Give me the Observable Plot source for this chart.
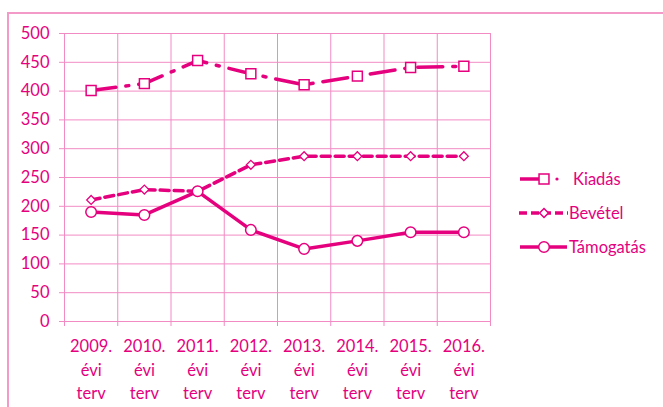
<!DOCTYPE html>
<html>
<head>
<meta charset="utf-8">
<script src="https://cdn.jsdelivr.net/npm/d3@7"></script>
<script src="https://cdn.jsdelivr.net/npm/@observablehq/plot@0.6"></script>
<style>
  html, body { margin: 0; padding: 0; background: #fff; }
  #wrap { position: relative; width: 663px; height: 407px; overflow: hidden; font-family: Lato, "Noto Sans", sans-serif; }
  #frame { position: absolute; left: 7px; top: 12px; width: 700px; height: 500px; border-top: 2px solid #f39ac9; border-left: 2px solid #f39ac9; box-sizing: border-box; }
  #chart { position: absolute; left: 0; top: 0; }
  #legend { position: absolute; left: 0; top: 0; }
</style>
</head>
<body>
<div id="wrap">
  <div id="frame"></div>
  <div id="chart"></div>
  <div id="legend"></div>
</div>
<script>
// ---- data ----
const years = ["2009.", "2010.", "2011.", "2012.", "2013.", "2014.", "2015.", "2016."];
const seriesNames = ["Kiadás", "Bevétel", "Támogatás"];
const kiadas    = [401, 413, 453, 430, 411, 426, 441, 443];
const bevetel   = [211, 229, 226, 272, 287, 287, 287, 287];
const tamogatas = [190, 185, 226, 159, 126, 140, 155, 155];
const yTicks = [0, 50, 100, 150, 200, 250, 300, 350, 400, 450, 500];

// ---- styling ----
const MAG = "#e5007e";
const GRID = "#f28bc4";

const idx = d3.range(years.length);
const boundaries = d3.range(years.length + 1).map(i => i - 0.5);
const rows = (vals) => vals.map((v, i) => ({i, v}));
const dK = rows(kiadas), dB = rows(bevetel), dT = rows(tamogatas);

const chart = Plot.plot({
  width: 663,
  height: 407,
  marginLeft: 64,
  marginRight: 173,
  marginTop: 33,
  marginBottom: 86,
  style: {fontFamily: "Lato, 'Noto Sans', sans-serif", fontSize: "16px", color: MAG, background: "transparent", overflow: "visible"},
  x: {type: "linear", domain: [-0.5, years.length - 0.5]},
  y: {domain: [0, 500]},
  marks: [
    Plot.gridY(yTicks, {stroke: GRID, strokeOpacity: 1, strokeWidth: 1}),
    Plot.gridX(boundaries, {stroke: GRID, strokeOpacity: 1, strokeWidth: 1}),
    Plot.axisY(yTicks, {tickSize: 5, tickPadding: 10, stroke: GRID, strokeOpacity: 1, fill: MAG, label: null, fontSize: 16.5}),
    Plot.axisX(boundaries, {tickSize: 5, stroke: GRID, strokeOpacity: 1, tickFormat: () => "", label: null}),
    Plot.axisX(idx, {tickSize: 0, tickPadding: 14, fill: MAG, label: null, fontSize: 16.5, lineHeight: 1.42,
      tickFormat: i => years[i] + "\névi\nterv"}),
    // Bevétel
    Plot.line(dB, {x: "i", y: "v", stroke: MAG, strokeWidth: 3.5, strokeDasharray: "9,5"}),
    // Támogatás
    Plot.line(dT, {x: "i", y: "v", stroke: MAG, strokeWidth: 3.5}),
    // Kiadás
    Plot.line(dK, {x: "i", y: "v", stroke: MAG, strokeWidth: 3.5, strokeDasharray: "25,10,3,10"}),
    Plot.dot(dB, {x: "i", y: "v", symbol: "diamond2", r: 4, fill: "white", stroke: MAG, strokeWidth: 1.3}),
    Plot.dot(dT, {x: "i", y: "v", symbol: "circle", r: 5.3, fill: "white", stroke: MAG, strokeWidth: 1.5}),
    Plot.dot(dK, {x: "i", y: "v", symbol: "square", r: 5.6, fill: "white", stroke: MAG, strokeWidth: 1.5})
  ]
});
document.getElementById("chart").appendChild(chart);

// ---- legend ----
const lg = d3.select("#legend").append("svg").attr("width", 663).attr("height", 407)
  .style("font-family", "Lato, 'Noto Sans', sans-serif").style("font-size", "16.5px");
const items = [
  {name: seriesNames[0], dash: null, sym: "square", y: 179},
  {name: seriesNames[1], dash: "8,4", sym: "diamond2", y: 213},
  {name: seriesNames[2], dash: null, sym: "circle", y: 247}
];
const symMap = {square: d3.symbolSquare, diamond2: d3.symbolDiamond2, circle: d3.symbolCircle};
const symR = {square: 5.6, diamond2: 4, circle: 5.3};
items.forEach(it => {
  const g = lg.append("g");
  if (it.sym === "square") {
    g.append("line").attr("x1", 520).attr("x2", 540).attr("y1", it.y).attr("y2", it.y)
      .attr("stroke", MAG).attr("stroke-width", 3.5);
    g.append("circle").attr("cx", 557).attr("cy", it.y).attr("r", 1.6).attr("fill", MAG);
  } else if (it.dash) {
    g.append("line").attr("x1", 519).attr("x2", 568).attr("y1", it.y).attr("y2", it.y)
      .attr("stroke", MAG).attr("stroke-width", 3.5).attr("stroke-dasharray", it.dash);
  } else {
    g.append("line").attr("x1", 520).attr("x2", 567).attr("y1", it.y).attr("y2", it.y)
      .attr("stroke", MAG).attr("stroke-width", 3.5);
  }
  const r = symR[it.sym];
  g.append("path").attr("d", d3.symbol(symMap[it.sym], Math.PI * r * r)())
    .attr("transform", `translate(544,${it.y})`)
    .attr("fill", "white").attr("stroke", MAG).attr("stroke-width", 1.5);
  g.append("text").attr("x", it.sym === "square" ? 573 : 569).attr("y", it.y).attr("dy", "0.35em")
    .attr("fill", MAG).text(it.name);
});
</script>
</body>
</html>
